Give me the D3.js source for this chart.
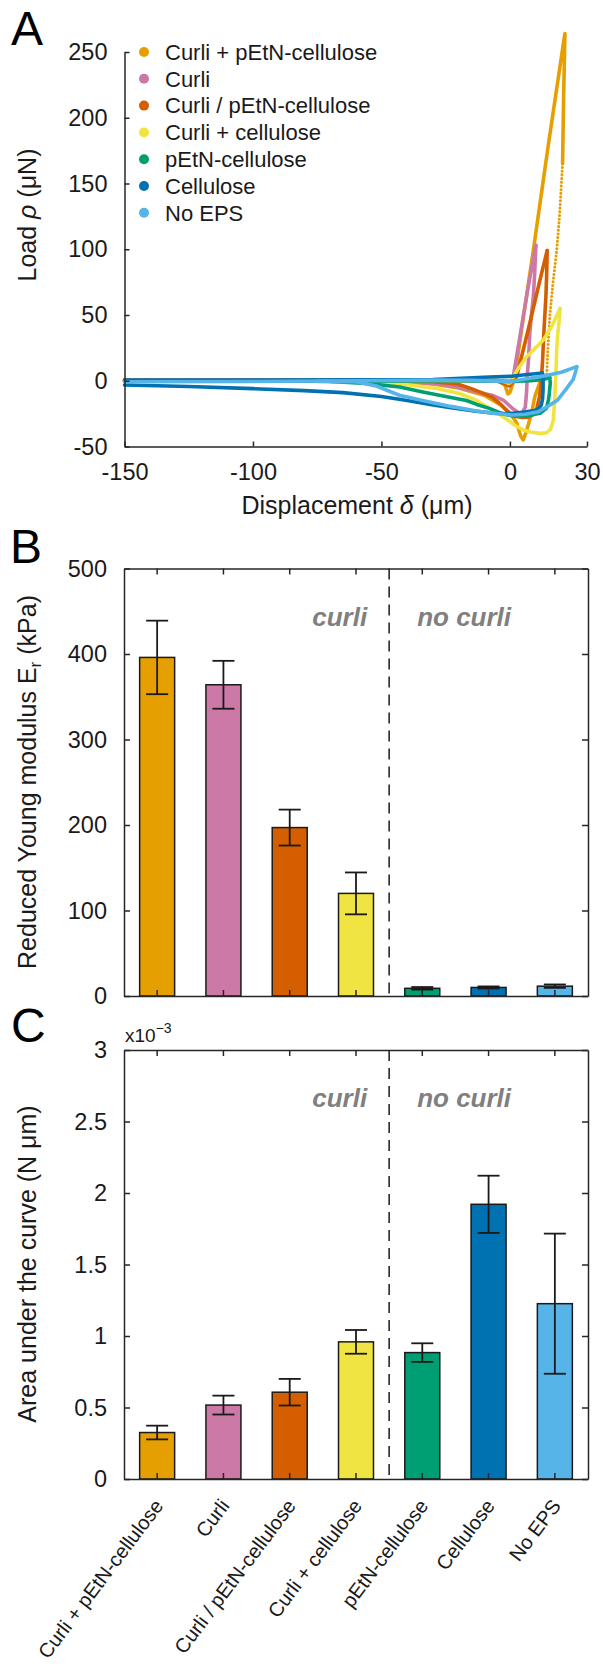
<!DOCTYPE html>
<html>
<head>
<meta charset="utf-8">
<script src="https://cdn.jsdelivr.net/npm/d3@7"></script>
<style>
body{margin:0;background:#ffffff;}
svg{display:block;}
</style>
</head>
<body>
<svg id="fig" width="603" height="1673"></svg>
<script>

//strains, in plotting order
var groups = ["Curli + pEtN-cellulose", "Curli", "Curli / pEtN-cellulose", "Curli + cellulose", "pEtN-cellulose", "Cellulose", "No EPS"];
var colours = ["#E69F00", "#CC79A7", "#D55E00", "#F0E442", "#009E73", "#0072B2", "#56B4E9"];

//panel B: reduced Young modulus (kPa), mean and error
var modulus = [396, 364, 197, 120, 9, 10, 11.5];
var modulusErr = [43, 28, 21, 24.5, 1.5, 1.2, 2];

//panel C: area under the curve (x10^-3 N um)
var area = [0.325, 0.517, 0.607, 0.959, 0.884, 1.921, 1.226];
var areaErr = [0.048, 0.066, 0.093, 0.083, 0.065, 0.2, 0.49];

//tick values
var aTicksX = [-150, -100, -50, 0, 30];
var aTicksY = [-50, 0, 50, 100, 150, 200, 250];
var bTicks = [0, 100, 200, 300, 400, 500];
var cTicks = [0, 0.5, 1, 1.5, 2, 2.5, 3];
var cTickLabels = ["0", "0.5", "1", "1.5", "2", "2.5", "3"];

//panel A: load-displacement loops [displacement um, load uN]
//approach + loading, then unloading + retraction
var curliPetnLoad = [[-150,0.8],[-100,0.8],[-60,0.8],[-20,0.6],[-5,0.3],[-2,-3],[-0.8,-10],[0,-9],[0.8,-4],[1.7,0],[5,45],[9.1,99],[15,180],[21.4,264],[20.9,215],[20.5,165]];
var curliPetnFast = [[20.5,165],[19.3,125],[18.2,99],[16.8,75],[15.6,51],[14.8,25],[14.3,3]];
var curliPetnRetract = [[14.3,3],[11.7,-1],[9.7,-12],[8.4,-24.7],[6.5,-38],[5.2,-45],[4.2,-42],[2.6,-32],[0,-24.5],[-3.9,-18],[-10,-11],[-20,-5.5],[-30,-2.5],[-45,-0.5],[-60,0.3]];

var curliLoad = [[-150,0.3],[-60,0.3],[-20,0.3],[-3,0],[-1,-3],[0,-2],[1.3,3],[4,35],[7,70],[10.1,103]];
var curliRetract = [[10.1,103],[9.6,80],[9.1,64],[7.8,38],[7.2,15],[6.7,3],[6.5,-8],[6,-20],[4.8,-24],[3.5,-24.5],[1,-21],[-2.4,-15],[-7,-11],[-12.9,-8.5],[-20,-5],[-27.9,-2.5],[-40,-0.8],[-60,0]];

var slashLoad = [[-150,0],[-20,0],[-5,0],[-1.5,-3],[0,-4],[1,-1],[2.6,3],[7.1,38.6],[11.7,76.7],[14.5,99]];
var slashRetract = [[14.5,99],[14.3,80],[14,64],[13.3,40],[12.7,15],[12.3,3],[12,-5],[11.5,-12],[10.5,-21],[9.4,-25.4],[7,-27.8],[4.8,-28],[2,-27],[0.2,-25.4],[-3.7,-17.7],[-7,-12.5],[-11.3,-8.9],[-15,-6],[-20.4,-2.5],[-30,-0.8],[-45,0]];

var curliCellLoad = [[-150,0],[-20,0],[-3,0],[-0.5,-2],[0.5,-1],[1.3,3],[3.5,10],[6.5,18.3],[10,25],[13,31],[16.5,42],[19.5,55]];
var curliCellRetract = [[19.5,55],[19.3,48],[18.6,35],[18.2,23.4],[17.9,5],[17.5,-12],[16.9,-30],[15.8,-37],[14.3,-39.5],[11.7,-40],[8,-39],[5.2,-37.4],[2,-34],[0,-31],[-4.5,-25],[-9.1,-19.7],[-14,-14],[-20,-9.5],[-28,-6],[-40,-3],[-56,-1.2],[-75,-0.3]];

var petnLoad = [[-150,-0.3],[-60,-0.3],[-20,0],[0,-0.5],[8,0],[13,1],[15.5,2.5]];
var petnRetract = [[15.5,2.5],[15.7,-1.8],[15.3,-10],[15,-14.6],[14.2,-21],[11.7,-24.7],[7.2,-26.4],[1.3,-26.8],[-3,-25],[-8,-21],[-12.9,-18],[-16.9,-15],[-25,-12],[-33.9,-8.5],[-42.9,-4.8],[-56,-2],[-70,-0.5]];

var cellLoad = [[-150,0.5],[-100,0.5],[-50,0.8],[-30,1],[-18.9,1.9],[-8,2.8],[0.6,3.4],[6,4.5],[12.6,5.9]];
var cellRetract = [[12.6,5.9],[12.9,4.6],[12.9,-1],[12.9,-6.8],[12.7,-14],[12.2,-18.5],[11,-21.5],[9.6,-22.7],[5,-24],[0,-25],[-6,-24.7],[-14,-23],[-23,-20.5],[-31,-18],[-40,-15],[-50,-12],[-65,-9],[-80,-7.5],[-100,-6],[-125,-4.4],[-150,-3.2]];

var noEpsLoad = [[-150,-0.8],[-100,-0.6],[-60,0],[-30,0.5],[-15,0.3],[-5,-0.3],[0,-0.7],[6,1.3],[12.8,3.5],[20,6.5],[26,10.7]];
var noEpsRetract = [[26,10.7],[25.6,7],[24.6,1],[22,-6],[18.6,-14.6],[14.3,-20],[11.1,-23.5],[6,-25.5],[0.6,-26],[-5,-25],[-13,-23],[-23,-19.5],[-34,-15],[-43,-11],[-52,-4],[-60,-0.8],[-75,-0.5]];

var curves = [
	{solid:[curliPetnLoad, curliPetnRetract], dotted:[curliPetnFast]},
	{solid:[curliLoad, curliRetract], dotted:[]},
	{solid:[slashLoad, slashRetract], dotted:[]},
	{solid:[curliCellLoad, curliCellRetract], dotted:[]},
	{solid:[petnLoad, petnRetract], dotted:[]},
	{solid:[cellLoad, cellRetract], dotted:[]},
	{solid:[noEpsLoad, noEpsRetract], dotted:[]}
];

var font = "'Liberation Sans', Arial, Helvetica, sans-serif";
var ink = "#1a1a1a";
var axisInk = "#262626";

var svg = d3.select("#fig").attr("font-family", font);

function styleAxis(g, fs){
	g.attr("font-family", font).attr("font-size", fs);
	g.select(".domain").attr("stroke", axisInk).attr("stroke-width", 1.5);
	g.selectAll(".tick line").attr("stroke", axisInk).attr("stroke-width", 1.5);
	g.selectAll(".tick text").attr("fill", ink);
}

function panelLetter(letter, x, y){
	svg.append("text").attr("x", x).attr("y", y).text(letter)
	   .style("font-size", "48px").attr("fill", "#000");
}

/* ---------------- panel A ---------------- */
var xA = d3.scaleLinear().domain([-150, 30]).range([124.5, 587]);
var yA = d3.scaleLinear().domain([-50, 250]).range([446.5, 52]);

var lineA = d3.line().x(function(d){return xA(d[0])}).y(function(d){return yA(d[1])}).curve(d3.curveLinear);

var gA = svg.append("g");

curves.forEach(function(c, i){
	c.solid.forEach(function(seg){
		gA.append("path").datum(seg).attr("d", lineA)
		  .attr("fill", "none").attr("stroke", colours[i])
		  .attr("stroke-width", 3.6).attr("stroke-linejoin", "round").attr("stroke-linecap", "round");
	});
	c.dotted.forEach(function(seg){
		gA.append("path").datum(seg).attr("d", lineA)
		  .attr("fill", "none").attr("stroke", colours[i])
		  .attr("stroke-width", 3).attr("stroke-dasharray", "0.1,3.6").attr("stroke-linecap", "round");
	});
});

var axAx = gA.append("g").attr("transform", "translate(0," + yA(-50) + ")")
	.call(d3.axisBottom(xA).tickValues(aTicksX).tickSizeInner(-5).tickSizeOuter(0).tickPadding(17)
		.tickFormat(function(d){return String(d)}));
styleAxis(axAx, 23.5);

var axAy = gA.append("g").attr("transform", "translate(" + xA(-150) + ",0)")
	.call(d3.axisLeft(yA).tickValues(aTicksY).tickSizeInner(-5).tickSizeOuter(0).tickPadding(17)
		.tickFormat(function(d){return String(d)}));
styleAxis(axAy, 23.5);

//legend
var leg = gA.append("g").selectAll("g").data(groups).enter().append("g")
	.attr("transform", function(d, i){return "translate(144," + (52 + i*26.8) + ")"});
leg.append("circle").attr("r", 5).attr("fill", function(d, i){return colours[i]});
leg.append("text").attr("x", 21).attr("dy", "0.35em").text(function(d){return d})
   .style("font-size", "22px").attr("fill", ink);

//axis titles
var tA = gA.append("text").attr("transform", "translate(36,215) rotate(-90)")
	.attr("text-anchor", "middle").style("font-size", "25px").attr("fill", ink);
tA.append("tspan").text("Load ");
tA.append("tspan").text("ρ").style("font-style", "italic");
tA.append("tspan").text(" (μN)");

var tAx = gA.append("text").attr("x", 357).attr("y", 514)
	.attr("text-anchor", "middle").style("font-size", "25px").attr("fill", ink);
tAx.append("tspan").text("Displacement ");
tAx.append("tspan").text("δ").style("font-style", "italic");
tAx.append("tspan").text(" (μm)");

panelLetter("A", 11, 45);

/* ---------------- bar panels ---------------- */
var xBar = d3.scaleBand().domain(groups).range([124, 588]).paddingInner(0.472).paddingOuter(0.236);

function barPanel(o){
	var y = d3.scaleLinear().domain(o.domain).range([o.bottom, o.top]);
	var g = svg.append("g");
	var bw = xBar.bandwidth();

	g.selectAll("rect.bar").data(groups).enter().append("rect").classed("bar", true)
	 .attr("x", function(d){return xBar(d)})
	 .attr("width", bw)
	 .attr("y", function(d, i){return y(o.values[i])})
	 .attr("height", function(d, i){return y(0) - y(o.values[i])})
	 .attr("fill", function(d, i){return colours[i]})
	 .attr("stroke", ink).attr("stroke-width", 1.5);

	//error bars
	var eb = g.selectAll("g.err").data(groups).enter().append("g").classed("err", true)
	 .attr("transform", function(d){return "translate(" + (xBar(d) + bw/2) + ",0)"});
	eb.append("line").attr("x1", 0).attr("x2", 0)
	  .attr("y1", function(d, i){return y(o.values[i] - o.errs[i])})
	  .attr("y2", function(d, i){return y(o.values[i] + o.errs[i])});
	eb.append("line").attr("x1", -11).attr("x2", 11)
	  .attr("y1", function(d, i){return y(o.values[i] + o.errs[i])})
	  .attr("y2", function(d, i){return y(o.values[i] + o.errs[i])});
	eb.append("line").attr("x1", -11).attr("x2", 11)
	  .attr("y1", function(d, i){return y(o.values[i] - o.errs[i])})
	  .attr("y2", function(d, i){return y(o.values[i] - o.errs[i])});
	eb.selectAll("line").attr("stroke", ink).attr("stroke-width", 1.8);

	//divider between curli and no curli strains
	var xd = (xBar(groups[3]) + xBar(groups[4]) + bw)/2;
	g.append("line").attr("x1", xd).attr("x2", xd).attr("y1", o.top).attr("y2", o.bottom)
	 .attr("stroke", ink).attr("stroke-width", 1.5).attr("stroke-dasharray", "11,7");

	g.append("text").attr("x", xd - 22).attr("y", o.top + 57).attr("text-anchor", "end")
	 .text("curli").style("font-size", "26px").style("font-weight", "bold").style("font-style", "italic").attr("fill", "#808080");
	g.append("text").attr("x", xd + 28).attr("y", o.top + 57).attr("text-anchor", "start")
	 .text("no curli").style("font-size", "26px").style("font-weight", "bold").style("font-style", "italic").attr("fill", "#808080");

	//box axes
	var left = g.append("g").attr("transform", "translate(124,0)")
		.call(d3.axisLeft(y).tickValues(o.ticks).tickSizeInner(-6).tickSizeOuter(0).tickPadding(17)
			.tickFormat(function(d, i){return o.tickLabels[i]}));
	styleAxis(left, 23.5);
	var right = g.append("g").attr("transform", "translate(588,0)")
		.call(d3.axisRight(y).tickValues(o.ticks).tickSizeInner(-6).tickSizeOuter(0).tickFormat(""));
	styleAxis(right, 10);
	var topAx = g.append("g").attr("transform", "translate(0," + o.top + ")")
		.call(d3.axisTop(xBar).tickSizeInner(-6).tickSizeOuter(0).tickFormat(""));
	styleAxis(topAx, 10);
	var botAx = g.append("g").attr("transform", "translate(0," + o.bottom + ")")
		.call(d3.axisBottom(xBar).tickSizeInner(-6).tickSizeOuter(0).tickFormat(""));
	styleAxis(botAx, 10);

	return {g:g, y:y};
}

var B = barPanel({top:568.5, bottom:996, domain:[0, 500], values:modulus, errs:modulusErr,
	ticks:bTicks, tickLabels:bTicks.map(String)});

var tB = svg.append("text").attr("transform", "translate(36,782) rotate(-90)")
	.attr("text-anchor", "middle").style("font-size", "25px").attr("fill", ink);
tB.append("tspan").text("Reduced Young modulus E");
tB.append("tspan").text("r").style("font-size", "17px").attr("dy", 5);
tB.append("tspan").text(" (kPa)").attr("dy", -5);

panelLetter("B", 10, 563);

var C = barPanel({top:1050, bottom:1479, domain:[0, 3], values:area, errs:areaErr,
	ticks:cTicks, tickLabels:cTickLabels});

//rotated category labels
C.g.selectAll("text.cat").data(groups).enter().append("text").classed("cat", true)
	.attr("transform", function(d){return "translate(" + (xBar(d) + xBar.bandwidth()/2 + 7) + "," + (1479 + 27) + ") rotate(-53)"})
	.attr("text-anchor", "end").text(function(d){return d})
	.style("font-size", "20px").attr("fill", ink);

var exp = svg.append("text").attr("x", 125).attr("y", 1042).style("font-size", "19px").attr("fill", ink);
exp.append("tspan").text("x10");
exp.append("tspan").text("−3").style("font-size", "14px").attr("dy", -9);

var tC = svg.append("text").attr("transform", "translate(36,1264) rotate(-90)")
	.attr("text-anchor", "middle").style("font-size", "25px").attr("fill", ink)
	.text("Area under the curve (N μm)");

panelLetter("C", 11, 1042);

</script>
</body>
</html>
